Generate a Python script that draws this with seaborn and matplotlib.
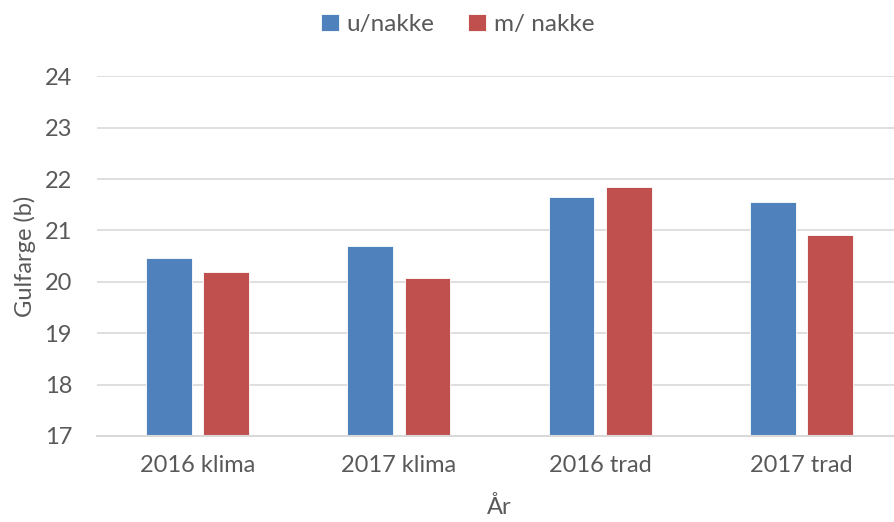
import pandas as pd
import matplotlib
matplotlib.use("Agg")
import matplotlib.pyplot as plt
import seaborn as sns

# === Data ===
categories = ["2016 klima", "2017 klima", "2016 trad", "2017 trad"]
u_nakke = [20.47, 20.70, 21.66, 21.55]
m_nakke = [20.19, 20.07, 21.85, 20.92]
series = ["u/nakke", "m/ nakke"]
colors = ["#4F81BD", "#C0504D"]

df = pd.DataFrame({
    "År": categories * 2,
    "value": u_nakke + m_nakke,
    "serie": [series[0]] * 4 + [series[1]] * 4,
})

# === Style ===
sns.set_style("white")
plt.rcParams["font.family"] = ["Lato", "DejaVu Sans"]
txt = "#595959"

fig = plt.figure(figsize=(8.95, 5.22), dpi=100)
ax = fig.add_axes([97 / 895, 1 - 436 / 522, 805 / 895, (436 - 76.3) / 522])

sns.barplot(data=df, x="År", y="value", hue="serie", palette=colors,
            saturation=1, width=0.569, gap=0.2, ax=ax, edgecolor="white",
            linewidth=0.6, errorbar=None)

ax.set_ylim(17, 24)
ax.set_yticks(range(17, 25))
ax.yaxis.grid(True, color="#D9D9D9", linewidth=1.2)
ax.set_axisbelow(True)
for s in ["left", "right", "top"]:
    ax.spines[s].set_visible(False)
ax.spines["bottom"].set_color("#D9D9D9")
ax.spines["bottom"].set_linewidth(1.5)
ax.tick_params(axis="both", length=0, labelsize=17, colors=txt)
ax.tick_params(axis="y", pad=18)
ax.tick_params(axis="x", pad=14)

ax.set_ylabel("Gulfarge (b)", fontsize=17, color=txt, labelpad=6)
ax.set_xlabel("År", fontsize=17, color=txt, labelpad=14)

ax.legend(loc="upper center", bbox_to_anchor=(0.5 - 42 / 805, 1.235), ncol=2,
          frameon=False, fontsize=17.5, labelcolor=txt, handlelength=0.75,
          handleheight=0.75, handletextpad=0.3, columnspacing=1.4)

fig.savefig("out.png", dpi=100)
